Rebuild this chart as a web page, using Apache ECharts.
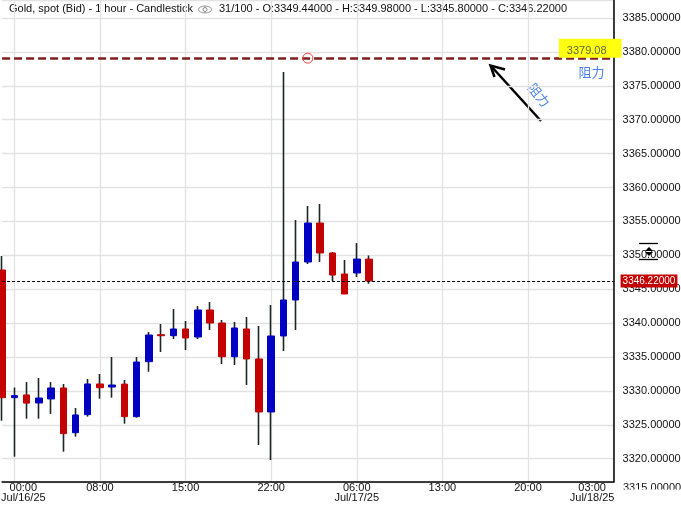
<!DOCTYPE html>
<html><head><meta charset="utf-8">
<script src="https://cdn.jsdelivr.net/npm/echarts@6/dist/echarts.min.js"></script>
<style>html,body{margin:0;padding:0;background:#fff;}#c{width:681px;height:505px;}</style>
</head><body><div id="c"></div>
<script>
// Hourly OHLC candles (slot 0 = Jul/15 23:00, slot 1 = Jul/16 00:00 ...)
const opens  = [3347.83,3329.00,3329.40,3328.22,3328.81,3330.43,3323.83,3326.49,3331.02,3330.57,3331.00,3326.20,3334.31,3338.29,3338.14,3339.13,3337.95,3341.93,3340.01,3335.04,3339.13,3334.71,3326.89,3338.10,3343.41,3349.01,3354.76,3350.34,3347.24,3347.39,3349.44];
const highs  = [3349.90,3330.50,3331.30,3331.90,3331.30,3331.02,3327.48,3331.76,3332.49,3335.00,3331.61,3335.00,3338.69,3339.87,3342.08,3340.31,3342.52,3343.11,3340.46,3340.16,3340.90,3339.57,3342.67,3377.03,3355.21,3357.27,3357.57,3350.49,3349.31,3351.81,3349.98];
const lows   = [3325.60,3320.30,3325.90,3325.90,3326.60,3321.03,3323.25,3326.20,3328.85,3329.00,3325.16,3326.05,3332.83,3335.74,3337.65,3336.03,3337.65,3338.98,3333.97,3333.82,3330.87,3322.02,3319.80,3335.88,3338.98,3348.71,3349.01,3346.21,3344.29,3346.80,3345.80];
const closes = [3329.00,3329.30,3328.20,3328.95,3330.43,3323.69,3326.45,3331.02,3330.47,3330.87,3326.20,3334.26,3338.24,3338.14,3339.13,3337.80,3341.93,3340.01,3335.04,3339.28,3334.71,3326.89,3338.10,3343.41,3349.01,3354.76,3350.34,3347.09,3344.29,3349.45,3346.22];
const slotCount = 51;
const tickIndices = [1, 8, 15, 22, 29, 36, 43, 50];
const tickLabels = ['00:00\nJul/16/25', '08:00', '15:00', '22:00', '06:00\nJul/17/25', '13:00', '20:00', '03:00\nJul/18/25'];
const resistanceLevel = 3379.08;
const lastPrice = 3346.22;
const yMin = 3316.56, yMax = 3387.66;

const FONT = 'Liberation Sans, Arial, sans-serif';
const BULL = '#0000c4', BEAR = '#c40000', WICK = '#1c2626';

const categories = Array.from({length: slotCount}, (_, i) => {
  const k = tickIndices.indexOf(i);
  const item = {value: 's' + i};
  if (k === 0) item.textStyle = {padding: [0, 0, 0, 18]};
  if (k === tickIndices.length - 1) item.textStyle = {padding: [0, 43, 0, 0]};
  return item;
});
const isTick = (idx) => tickIndices.indexOf(idx) >= 0;

const wickData = opens.map((o, i) => [o, closes[i], lows[i], highs[i]]);
const bodyData = opens.map((o, i) => [o, closes[i], Math.min(o, closes[i]), Math.max(o, closes[i])]);

const chart = echarts.init(document.getElementById('c'), null, {renderer: 'canvas'});
chart.setOption({
  animation: false,
  backgroundColor: '#ffffff',
  grid: {left: 2.1, right: 67.4, top: 0, bottom: 23, containLabel: false, outerBoundsMode: 'none'},
  xAxis: {
    type: 'category', data: categories, boundaryGap: false,
    axisLine: {show: true, lineStyle: {color: '#000', width: 1.5}},
    axisTick: {show: false},
    splitLine: {show: true, interval: (i) => isTick(i), lineStyle: {color: '#e2e2e2', width: 1.3}},
    axisLabel: {
      interval: (i) => isTick(i), margin: 1, fontSize: 11, lineHeight: 10,
      color: '#111', fontFamily: FONT, hideOverlap: false,
      formatter: (v, i) => { const k = tickIndices.indexOf(i); return k >= 0 ? tickLabels[k] : ''; }
    }
  },
  yAxis: {
    type: 'value', position: 'right', min: yMin, max: yMax, scale: true,
    splitNumber: 14, minInterval: 5, maxInterval: 5,
    axisLine: {show: true, lineStyle: {color: '#000', width: 1.5}},
    axisTick: {show: false},
    splitLine: {show: true, lineStyle: {color: '#e2e2e2', width: 1.3}},
    axisLabel: {
      margin: 9, fontSize: 11, color: '#111', fontFamily: FONT,
      showMinLabel: false, showMaxLabel: false,
      formatter: (v) => Math.abs(v - Math.round(v / 5) * 5) < 1e-6 ? v.toFixed(5) : ''
    }
  },
  series: [
    {
      name: 'wick', type: 'candlestick', data: wickData, barWidth: 1, clip: false,
      itemStyle: {color: WICK, color0: WICK, borderColor: WICK, borderColor0: WICK, borderWidth: 1.6}
    },
    {
      name: 'body', type: 'candlestick', data: bodyData, barWidth: 7, clip: false,
      itemStyle: {color: BULL, color0: BEAR, borderColor: BULL, borderColor0: BEAR, borderWidth: 1},
      markLine: {
        silent: true, symbol: 'none', animation: false,
        data: [
          {
            yAxis: resistanceLevel,
            lineStyle: {color: '#7d1f1f', width: 2.5, type: [8, 4]},
            label: {
              show: true, position: 'insideEndTop', distance: [-8, 0.5],
              formatter: (p) => p.value.toFixed(2),
              backgroundColor: '#ffff10', color: '#5a6a40', fontSize: 11, fontFamily: FONT,
              lineHeight: 13, padding: [6, 15, 0, 8]
            }
          },
          {
            yAxis: lastPrice,
            lineStyle: {color: '#000', width: 1, type: [3, 2]},
            label: {
              show: true, position: 'end', distance: 7,
              formatter: (p) => p.value.toFixed(5),
              backgroundColor: '#c40000', color: '#fff', fontSize: 10, fontFamily: FONT,
              lineHeight: 12, padding: [1, 2, 0, 2]
            }
          }
        ]
      },
      markPoint: {
        silent: true, animation: false,
        data: [{coord: [24.85, resistanceLevel], symbol: 'circle', symbolSize: 10,
          itemStyle: {color: 'rgba(255,255,255,0)', borderColor: '#ff3b3b', borderWidth: 1}, label: {show: false}}]
      }
    }
  ],
  graphic: [
    {type: 'text', x: 9, y: 9, style: {text: 'Gold, spot (Bid) - 1 hour - Candlestick', fontSize: 11, fontFamily: FONT, fill: '#111', verticalAlign: 'middle'}},
    {type: 'ellipse', shape: {cx: 205, cy: 9.5, rx: 6.5, ry: 3.4}, style: {fill: 'none', stroke: '#888', lineWidth: 1}},
    {type: 'circle', shape: {cx: 205, cy: 9.5, r: 2}, style: {fill: 'none', stroke: '#888', lineWidth: 1}},
    {type: 'text', x: 219, y: 9, style: {text: '31/100 - O:3349.44000 - H:3349.98000 - L:3345.80000 - C:3346.22000', fontSize: 11, fontFamily: FONT, fill: '#111', verticalAlign: 'middle'}},
    {type: 'text', x: 591.5, y: 72, style: {text: '阻力', fontSize: 13, fontFamily: 'Noto Sans CJK SC, sans-serif', fill: '#4a7fe6', align: 'center', verticalAlign: 'middle'}},
    {type: 'line', shape: {x1: 541, y1: 121, x2: 491, y2: 66}, style: {stroke: '#000', lineWidth: 2.5}},
    {type: 'polyline', shape: {points: [[505, 69.5], [490.5, 65.5], [494.5, 77]]}, style: {stroke: '#000', lineWidth: 2.5, fill: 'none'}},
    {type: 'text', x: 539, y: 95, rotation: -0.9, style: {text: '阻力', fontSize: 13, fontFamily: 'Noto Sans CJK SC, sans-serif', fill: '#4a7fe6', align: 'center', verticalAlign: 'middle'}},
    {type: 'rect', shape: {x: 645, y: 244, width: 14, height: 15}, style: {fill: 'rgba(255,255,255,0.85)'}},
    {type: 'line', shape: {x1: 639, y1: 243.5, x2: 658, y2: 243.5}, style: {stroke: '#000', lineWidth: 1.3}},
    {type: 'line', shape: {x1: 639, y1: 259.5, x2: 658, y2: 259.5}, style: {stroke: '#000', lineWidth: 1.3}},
    {type: 'polygon', shape: {points: [[645, 251], [649, 247], [653, 251]]}, style: {fill: '#000'}},
    {type: 'polygon', shape: {points: [[645, 252], [649, 256], [653, 252]]}, style: {fill: '#000'}},
    {type: 'text', x: 623, y: 487.5, style: {text: '3315.00000', fontSize: 11, fontFamily: FONT, fill: '#111', verticalAlign: 'middle'}},
    {type: 'rect', shape: {x: 615, y: 489.5, width: 66, height: 16}, style: {fill: '#fff'}}
  ]
});
</script></body></html>
